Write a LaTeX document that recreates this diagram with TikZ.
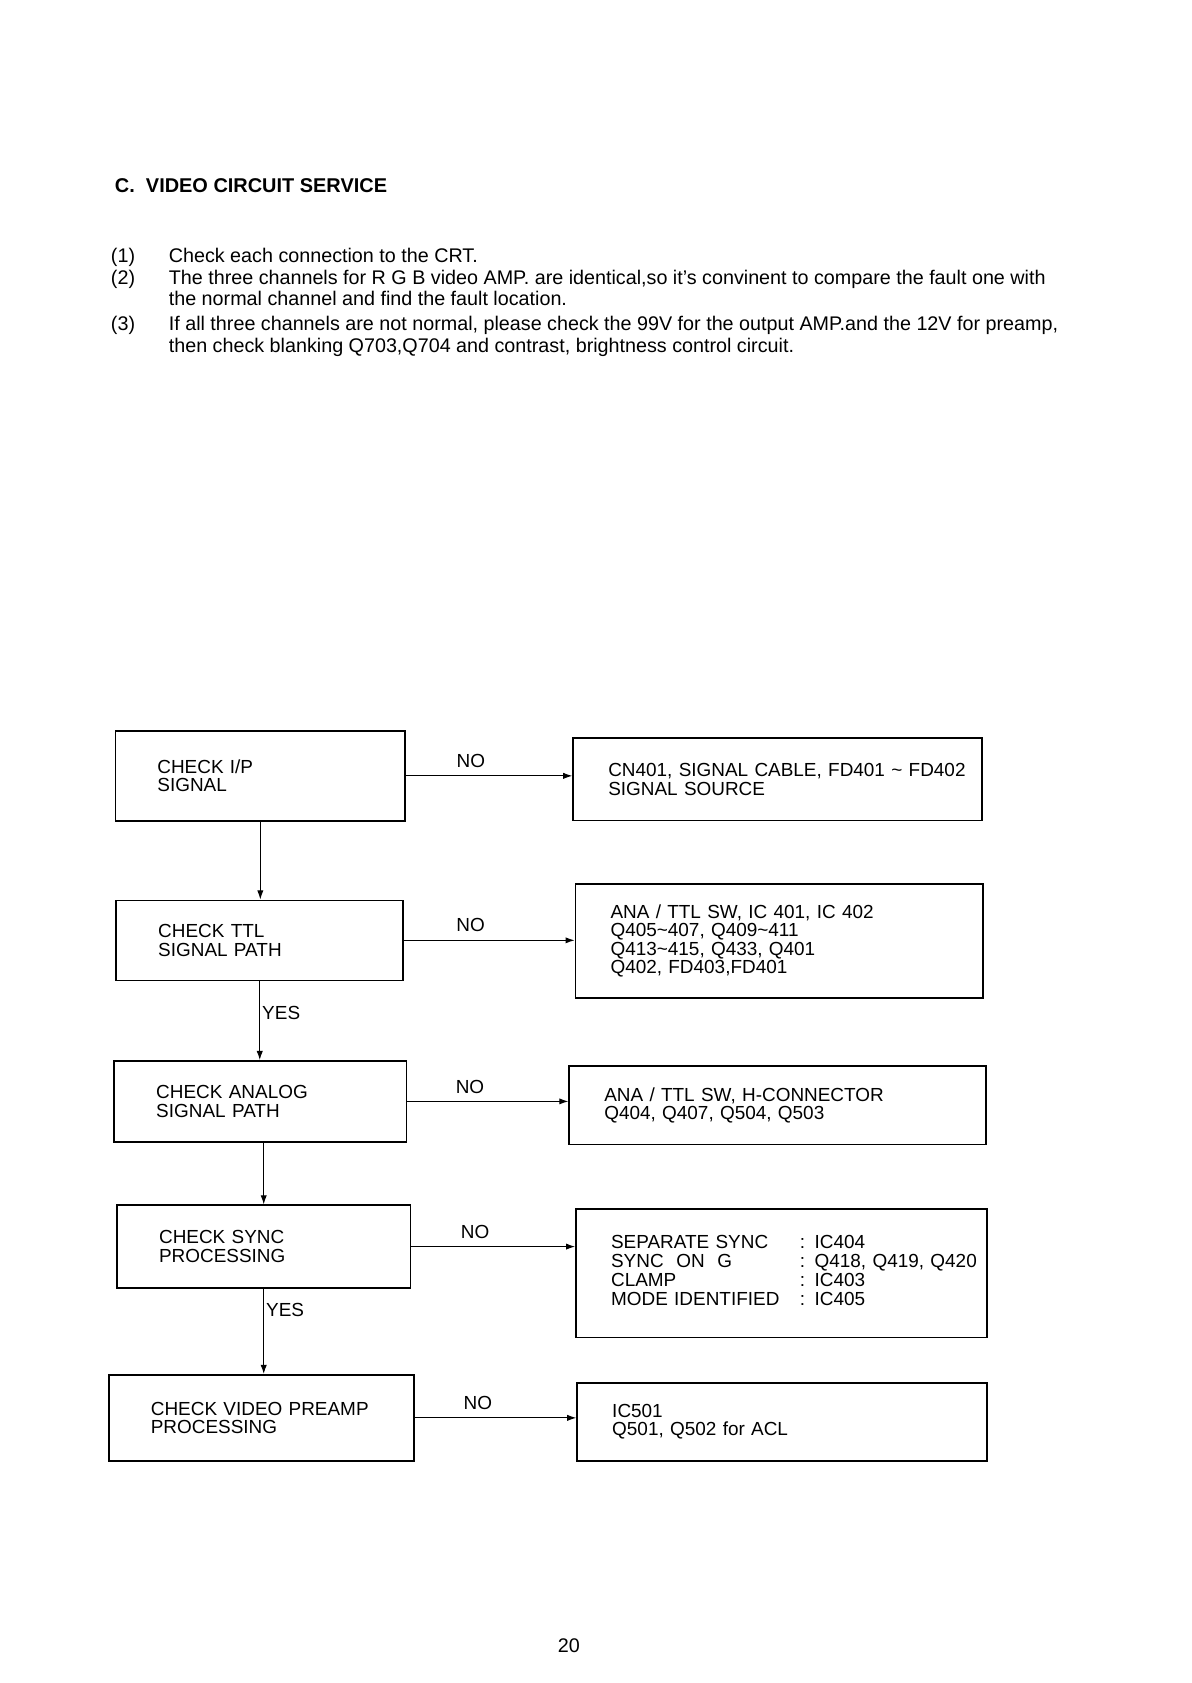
\documentclass[tikz,border=0pt]{standalone}
\usepackage{fontspec}
\setmainfont{Liberation Sans}
\usetikzlibrary{arrows.meta,positioning}

\newcommand{\boxfont}{\fontsize{9.5}{9.3}\selectfont}
\newcommand{\bodyfont}{\fontsize{9.9}{11}\selectfont}

\begin{document}
\begin{tikzpicture}[
    check/.style={draw, line width=0.8pt, align=left, inner xsep=0.74cm, font=\boxfont},
    cause/.style={draw, line width=0.8pt, align=left, inner xsep=0.62cm, font=\boxfont},
    arrow/.style={-{Latex[length=1.6mm,width=1.1mm]}, line width=0.5pt},
    lbl/.style={font=\boxfont, inner sep=1pt},
    txt/.style={anchor=base west, inner sep=0pt, font=\bodyfont}
]
\useasboundingbox (0,0) rectangle (21,-29.675);

% heading and notes
\node[txt, font=\fontsize{10}{12}\selectfont\bfseries] (title) at (2.02,-3.40) {C.\ \ VIDEO CIRCUIT SERVICE};
\node[txt] (n1) at (1.95,-4.62) {(1)};
\node[txt] (t1) at (2.97,-4.62) {Check each connection to the CRT.};
\node[txt] (n2) at (1.95,-5.02) {(2)};
\node[txt] (t2a) at (2.97,-5.02) {The three channels for R G B video AMP. are identical,so it’s convinent to compare the fault one with};
\node[txt] (t2b) at (2.97,-5.39) {the normal channel and find the fault location.};
\node[txt] (n3) at (1.95,-5.82) {(3)};
\node[txt] (t3a) at (2.97,-5.82) {If all three channels are not normal, please check the 99V for the output AMP.and the 12V for preamp,};
\node[txt] (t3b) at (2.97,-6.21) {then check blanking Q703,Q704 and contrast, brightness control circuit.};

% left column
\node[check, text width=3.63cm, minimum height=1.59cm] (ipsig) at (4.59,-13.68) {CHECK I/P\\SIGNAL};
\node[check, text width=3.58cm, minimum height=1.41cm] (ttl) at (4.58,-16.58) {CHECK TTL\\SIGNAL PATH};
\node[check, text width=3.67cm, minimum height=1.43cm] (analog) at (4.59,-19.42) {CHECK ANALOG\\SIGNAL PATH};
\node[check, text width=3.69cm, minimum height=1.46cm] (sync) at (4.65,-21.98) {CHECK SYNC\\PROCESSING};
\node[check, text width=3.90cm, minimum height=1.52cm] (preamp) at (4.61,-25.00) {CHECK VIDEO PREAMP\\PROCESSING};

% right column
\node[cause, text width=5.97cm, minimum height=1.45cm] (src) at (13.71,-13.74) {\mbox{CN401, SIGNAL CABLE, FD401 \textasciitilde\ FD402}\\SIGNAL SOURCE};
\node[cause, text width=5.95cm, minimum height=2.01cm] (ttlparts) at (13.74,-16.59) {ANA / TTL SW, IC 401, IC 402\\Q405\textasciitilde407, Q409\textasciitilde411\\Q413\textasciitilde415, Q433, Q401\\Q402, FD403,FD401};
\node[cause, text width=6.11cm, minimum height=1.38cm] (anaparts) at (13.71,-19.49) {ANA / TTL SW, H-CONNECTOR\\Q404, Q407, Q504, Q503};
\node[cause, text width=6.01cm, minimum height=2.26cm] (syncparts) at (13.78,-22.45) {\begin{tabular}{@{}p{3.33cm}@{}l@{}}
SEPARATE SYNC & : IC404\\
SYNC\ \ ON\ \ G & : Q418, Q419, Q420\\
CLAMP & : IC403\\
MODE IDENTIFIED & : IC405
\end{tabular}};
\node[cause, text width=5.99cm, minimum height=1.38cm] (preparts) at (13.79,-25.07) {IC501\\Q501, Q502 for ACL};

% connectors
\draw[arrow] (ipsig.south) -- (ipsig.south |- ttl.north);
\draw[arrow] (ttl.south) -- node[lbl, right, pos=0.4] (yes1) {YES} (ttl.south |- analog.north);
\draw[arrow] (analog.south -| sync.north) -- (sync.north);
\draw[arrow] (sync.south) -- node[lbl, right, pos=0.25] (yes2) {YES} (sync.south |- preamp.north);

\draw[arrow] (ipsig.east) -- node[lbl, above=1mm, pos=0.39] (no1) {NO} (ipsig.east -| src.west);
\draw[arrow] (ttl.east) -- node[lbl, above=1mm, pos=0.39] (no2) {NO} (ttl.east -| ttlparts.west);
\draw[arrow] (analog.east) -- node[lbl, above=1mm, pos=0.39] (no3) {NO} (analog.east -| anaparts.west);
\draw[arrow] (sync.east) -- node[lbl, above=1mm, pos=0.39] (no4) {NO} (sync.east -| syncparts.west);
\draw[arrow] (preamp.east) -- node[lbl, above=1mm, pos=0.39] (no5) {NO} (preamp.east -| preparts.west);

\node[font=\bodyfont] (page) at (10.03,-29.02) {20};
\end{tikzpicture}
\end{document}
